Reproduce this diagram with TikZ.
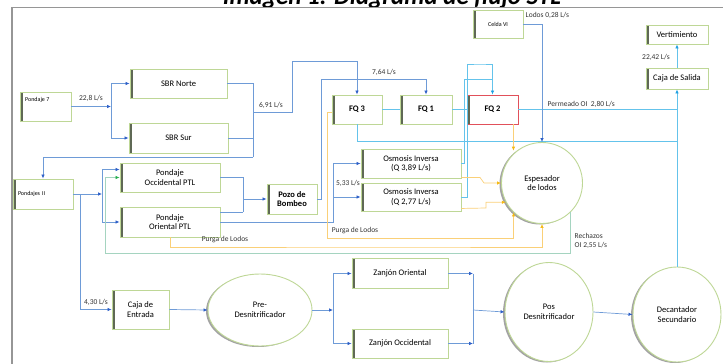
\documentclass[tikz,border=0pt]{standalone}
\usepackage{fontspec}
\setmainfont{Carlito}
\usetikzlibrary{arrows.meta,calc,shadows,shapes.geometric}
\definecolor{bln}{RGB}{110,155,215}
\definecolor{bla}{RGB}{45,95,200}
\definecolor{cyn}{RGB}{100,195,235}
\definecolor{cya}{RGB}{30,160,225}
\definecolor{yln}{RGB}{250,208,120}
\definecolor{yla}{RGB}{245,185,20}
\definecolor{tln}{RGB}{165,212,192}
\definecolor{tla}{RGB}{40,175,80}
\definecolor{bgr}{RGB}{190,215,150}
\definecolor{barc}{RGB}{95,105,85}
\definecolor{rd}{RGB}{225,80,90}
\definecolor{frm}{RGB}{150,150,150}
\tikzset{
 box/.style={draw=bgr, line width=0.9pt, fill=white, inner sep=1pt, align=center,
   font=\fontsize{8.5}{9.5}\selectfont,
   path picture={\fill[barc] (path picture bounding box.north west) rectangle ([xshift=2.5pt]path picture bounding box.south west);}},
 rnd/.style={ellipse, draw=bgr, line width=0.9pt, fill=white, inner sep=0pt, align=center,
   font=\fontsize{8.5}{9.5}\selectfont,
   drop shadow={shadow xshift=-2pt, shadow yshift=-1pt, fill=black!60, opacity=0.6}},
 bl/.style={draw=bln, line width=0.7pt},
 cy/.style={draw=cyn, line width=0.7pt},
 yl/.style={draw=yln, line width=0.7pt},
 tl/.style={draw=tln, line width=0.7pt},
 barr/.style={-{Latex[length=4pt,width=3.5pt,color=bla]}},
 carr/.style={-{Latex[length=4pt,width=3.5pt,color=cya]}},
 yarr/.style={-{Latex[length=4pt,width=3.5pt,color=yla]}},
 tarr/.style={-{Latex[length=4pt,width=3.5pt,color=tla]}},
 lab/.style={font=\fontsize{7.5}{8.5}\selectfont, inner sep=0.5pt, text=black!80},
 small/.style={font=\fontsize{6}{7}\selectfont},
 bold/.style={font=\fontsize{8.5}{9.5}\selectfont\bfseries},
}
\begin{document}
\begin{tikzpicture}[x=1pt,y=-1pt]
\useasboundingbox (0,0) rectangle (723,364);
\node[anchor=base, font=\fontsize{25}{27}\selectfont\bfseries\itshape, inner sep=0] (title) at (392,5) {Imagen 1. Diagrama de flujo STL};
\fill[white] (0,6.5) rectangle (723,9);
\draw[frm, line width=1.3pt] (12,364) -- (12,7.5) -- (723,7.5);

% boxes
\node[box,minimum width=51pt,minimum height=29pt] (p7) at (45.5,106.5) {};
\node[small,anchor=west,inner sep=0] (p7t) at (25,100) {Pondaje 7};
\node[box,minimum width=97pt,minimum height=29pt] (sbrn) at (178.5,83.5) {SBR Norte};
\node[box,minimum width=99pt,minimum height=30pt] (sbrs) at (178.5,138) {SBR Sur};
\node[box,small,minimum width=60pt,minimum height=30pt,text width=50pt,align=left] (pii) at (43,194) {Pondajes II};
\node[box,minimum width=100pt,minimum height=29pt] (occ) at (170,177.5) {Pondaje\\Occidental PTL};
\node[box,minimum width=100pt,minimum height=30pt] (ori) at (170,222) {Pondaje\\Oriental PTL};
\node[box,bold,minimum width=50pt,minimum height=30pt] (pozo) at (292,199) {Pozo de\\Bombeo};
\node[box,bold,minimum width=50pt,minimum height=29pt] (fq3) at (357,109.5) {FQ 3};
\node[box,bold,minimum width=52pt,minimum height=29pt] (fq1) at (426,109.5) {FQ 1};
\node[box,bold,draw=rd,minimum width=51pt,minimum height=29pt] (fq2) at (492.5,109.5) {FQ 2};
\node[box,minimum width=100pt,minimum height=29pt] (os1) at (411,163.5) {Osmosis Inversa\\(Q 3,89 L/s)};
\node[box,minimum width=100pt,minimum height=28pt] (os2) at (411,197) {Osmosis Inversa\\(Q 2,77 L/s)};
\node[box,small,minimum width=50pt,minimum height=28pt] (celda) at (498,24) {Celda VI};
\node[box,minimum width=62pt,minimum height=19pt] (vert) at (677,34.5) {Vertimiento};
\node[box,minimum width=62pt,minimum height=21pt] (csal) at (677,78.5) {Caja de Salida};
\node[box,minimum width=57pt,minimum height=39pt] (cen) at (140.5,309.5) {Caja de\\Entrada};
\node[box,minimum width=96pt,minimum height=30pt] (zor) at (400,273.5) {Zanjón Oriental};
\node[box,minimum width=96pt,minimum height=29pt] (zoc) at (400,343.5) {Zanjón Occidental};
\node[rnd,minimum width=81pt,minimum height=81pt] (esp) at (542,183) {Espesador\\de lodos};
\node[rnd,minimum width=104pt,minimum height=72pt] (pre) at (260,310) {Pre-\\Desnitrificador};
\node[rnd,minimum width=88pt,minimum height=99pt] (pos) at (549,312) {Pos\\Desnitrificador};
\node[rnd,minimum width=88pt,minimum height=95pt] (dec) at (677,314.5) {Decantador\\Secundario};

% Pondaje 7 split
\coordinate (j1) at (111,106.5);
\draw[bl,barr] (p7.east) -- (j1);
\draw[bl,barr] (j1) |- (sbrn.west);
\draw[bl,barr] (j1) |- (sbrs.west);

% SBR outputs
\coordinate (s1) at (253,157);
\coordinate (s2) at (253,112);
\draw[bl] (sbrn.east) -| (s1);
\draw[bl] (sbrs.east) -- (sbrs.east -| s1);
\draw[bl,barr] (s2) -- (292,112) -- (292,61) -| (fq3.north);
\draw[bl,barr] (s1) -| (pii.north);

% Pondajes II
\coordinate (j3) at (102,194);
\coordinate (j4) at (80,194);
\draw[bl,barr] (pii.east) -- (j3);
\draw[bl,barr] (j3) |- ($(occ.west)+(0,-8)$);
\draw[bl,barr] (j3) |- (ori.west);
\draw[bl,barr] (j4) |- (cen.west);

% to Pozo
\coordinate (j5) at (243,199);
\draw[bl] (occ.east) -| (243,212);
\draw[bl] ($(ori.east)+(0,-10)$) -- (243,212);
\draw[bl,barr] (j5) -- (pozo.west);

% Oriental to Osmosis
\coordinate (j6) at (333,197);
\draw[bl] (ori.east) -| (j6);
\draw[bl,barr] (j6) |- (os1.west);
\draw[bl,barr] (j6) -- (os2.west);

% Pozo to FQ1
\draw[bl,barr] (pozo.east) -- (321,199) -- (321,79) -| (fq1.north);

% FQ chain
\draw[cy] (fq3.east) -- (fq1.west);
\draw[cy] (fq1.east) -- (fq2.west);
\draw[cy] (fq3.south) |- (dec.north |- 0,141);
\draw[cy] (fq2.east) -- (fq2.east -| dec.north);
\draw[cy,carr] (dec.north) -- (csal.south);
\draw[cy,carr] (csal.north) -- (vert.south);

% Osmosis to FQ2
\draw[cy] (os1.east) -| (464,79) -- (492.5,79);
\draw[cy,carr] (os2.east) -- (467,197) |- (480,64) -| (fq2.north);

% Celda
\draw[bl,barr] (celda.east) -| (esp.north);

% yellow
\draw[yl,yarr] ([xshift=-5pt]fq2.south east) -- ([xshift=-5pt]fq2.south east |- esp.128);
\draw[yl,yarr] ($(os1.south east)+(0,-1)$) -- (480,177.5) -- (484,183) -- (esp.west);
\draw[yl,yarr] ($(os2.south east)+(0,-3)$) -- (486,208) |- (esp.208);
\draw[yl,yarr] ($(fq3.west)+(0,2.5)$) -| (327,238) -| (esp.226);
\draw[yl,yarr] (ori.south) |- (400,247) -| (esp.south);

% teal
\draw[tl,tarr] (esp.-46) |- (105,253) |- (occ.west);

% bottom
\coordinate (j7) at (333,310);
\coordinate (j8) at (473,310);
\draw[bl,barr] (cen.east) -- (pre.west);
\draw[bl,barr] (pre.east) -- (j7);
\draw[bl,barr] (j7) |- (zor.west);
\draw[bl,barr] (j7) |- (zoc.west);
\draw[bl,barr] (zor.east) -- (zor.east -| j8);
\draw[bl,barr] (zoc.east) -- (zoc.east -| j8);
\draw[bl] (zor.east -| j8) -- (zoc.east -| j8);
\draw[bl,barr] (j8) -- (pos.west);
\draw[bl,barr] (pos.east) -- (dec.west);

% labels
\node[lab] (l1) at (91,98) {22,8 L/s};
\node[lab] (l2) at (271,105) {6,91 L/s};
\node[lab] (l3) at (384,72) {7,64 L/s};
\node[lab] (l4) at (348,183) {5,33 L/s};
\node[lab] (l5) at (96,302) {4,30 L/s};
\node[lab,anchor=west] (l6) at (547,104) {Permeado OI\ \ 2,80 L/s};
\node[lab] (l7) at (656,57) {22,42 L/s};
\node[lab,anchor=west] (l8) at (525,15) {Lodos 0,28 L/s};
\node[lab] (l9) at (355,231) {Purga de Lodos};
\node[lab] (l10) at (225,240) {Purga de Lodos};
\node[lab,align=left,anchor=west] (l11) at (574,241) {Rechazos\\OI 2,55 L/s};
\end{tikzpicture}
\end{document}
